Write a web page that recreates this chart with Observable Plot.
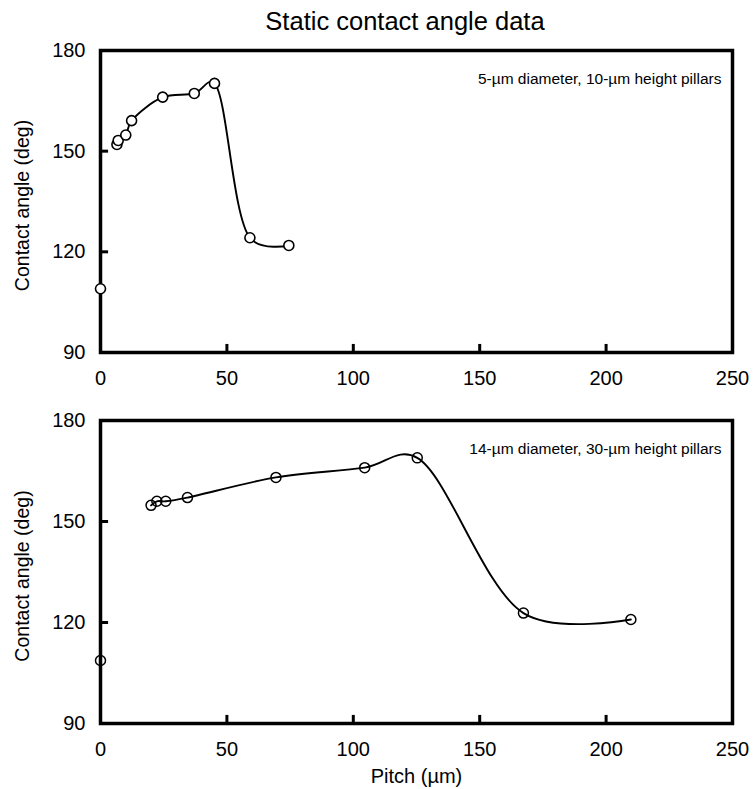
<!DOCTYPE html>
<html>
<head>
<meta charset="utf-8">
<script src="https://cdn.jsdelivr.net/npm/d3@7"></script>
<script src="https://cdn.jsdelivr.net/npm/@observablehq/plot@0.6"></script>
<style>
  html, body { margin: 0; padding: 0; background: #fff; }
  #wrap { width: 755px; height: 789px; overflow: hidden; font-family: "Liberation Sans", Arial, sans-serif; color: #000; }
  #title { height: 40px; line-height: 42px; margin-left: 55px; width: 700px; text-align: center; font-size: 25.5px; }
  #c1, #c2 { display: block; }
</style>
</head>
<body>
<div id="wrap">
  <div id="title">Static contact angle data</div>
  <div id="c1"></div>
  <div id="c2"></div>
</div>
<script>
// Data
const pitchTop = [0, 6.5, 7, 10, 12.3, 24.6, 37.1, 45.1, 59.1, 74.5];
const angleTop = [109, 152, 153.2, 154.8, 159.1, 166.1, 167.2, 170.2, 124.2, 121.9];
const pitchBottom = [0, 20, 22.3, 25.8, 34.4, 69.4, 104.5, 125.3, 167.3, 209.8];
const angleBottom = [108.7, 154.8, 156, 156, 157.1, 163.1, 166, 168.9, 122.8, 120.9];

const xTicks = [0, 50, 100, 150, 200, 250];
const yTicks = [90, 120, 150, 180];
const xInnerTicks = [50, 100, 150, 200];
const yInnerTicks = [120, 150];

const titleText = "Static contact angle data";
const yLabel = "Contact angle (deg)";
const xLabel = "Pitch (µm)";
const noteTop = "5-µm diameter, 10-µm height pillars";
const noteBottom = "14-µm diameter, 30-µm height pillars";

const FONT = "'Liberation Sans', Arial, sans-serif";

function panel(px, py, note, opts) {
  const pts = px.map((x, i) => ({x, y: py[i]}));
  const linePts = pts.slice(1);
  const marks = [
    Plot.frame({stroke: "black", strokeWidth: 3.5}),
    Plot.ruleX(xInnerTicks, {y1: 90, y2: 92.4, stroke: "black", strokeWidth: 3}),
    Plot.ruleY(yInnerTicks, {x1: 0, x2: 3.2, stroke: "black", strokeWidth: 3}),
    Plot.axisX(xTicks, {tickSize: 0, tickPadding: 18, fontSize: 20, label: null}),
    Plot.axisY(yTicks, {tickSize: 0, tickPadding: 15, fontSize: 20, label: null}),
    Plot.line(linePts, {x: "x", y: "y", curve: "catmull-rom", tension: 0.35, stroke: "black", strokeWidth: 1.9}),
    Plot.dot(pts, {x: "x", y: "y", r: 5, fill: opts.dotFill, stroke: "black", strokeWidth: opts.dotStroke}),
    Plot.text([yLabel], {frameAnchor: "left", rotate: -90, dx: -78, dy: 4, fontSize: 19.5, textAnchor: "middle", lineAnchor: "middle", fill: "black"}),
    Plot.text([note], {frameAnchor: "top-right", textAnchor: "end", lineAnchor: "top", dx: -11, dy: 22, fontSize: 15.5, fill: "black"})
  ];
  if (opts.xLabel) {
    marks.push(Plot.text([xLabel], {frameAnchor: "bottom", lineAnchor: "middle", dy: 53, fontSize: 20, fill: "black"}));
  }
  return Plot.plot({
    width: 755,
    height: opts.height,
    marginTop: opts.marginTop,
    marginBottom: opts.marginBottom,
    marginLeft: 100,
    marginRight: 23,
    x: {domain: [0, 250]},
    y: {domain: [90, 180]},
    style: {fontFamily: FONT, fontSize: "20px", color: "black", background: "white", overflow: "visible"},
    marks
  });
}

document.getElementById("c1").appendChild(
  panel(pitchTop, angleTop, noteTop, {height: 360, marginTop: 10, marginBottom: 48, dotFill: "white", dotStroke: 1.6, xLabel: false})
);
document.getElementById("c2").appendChild(
  panel(pitchBottom, angleBottom, noteBottom, {height: 389, marginTop: 20, marginBottom: 66, dotFill: "none", dotStroke: 1.5, xLabel: true})
);
</script>
</body>
</html>
